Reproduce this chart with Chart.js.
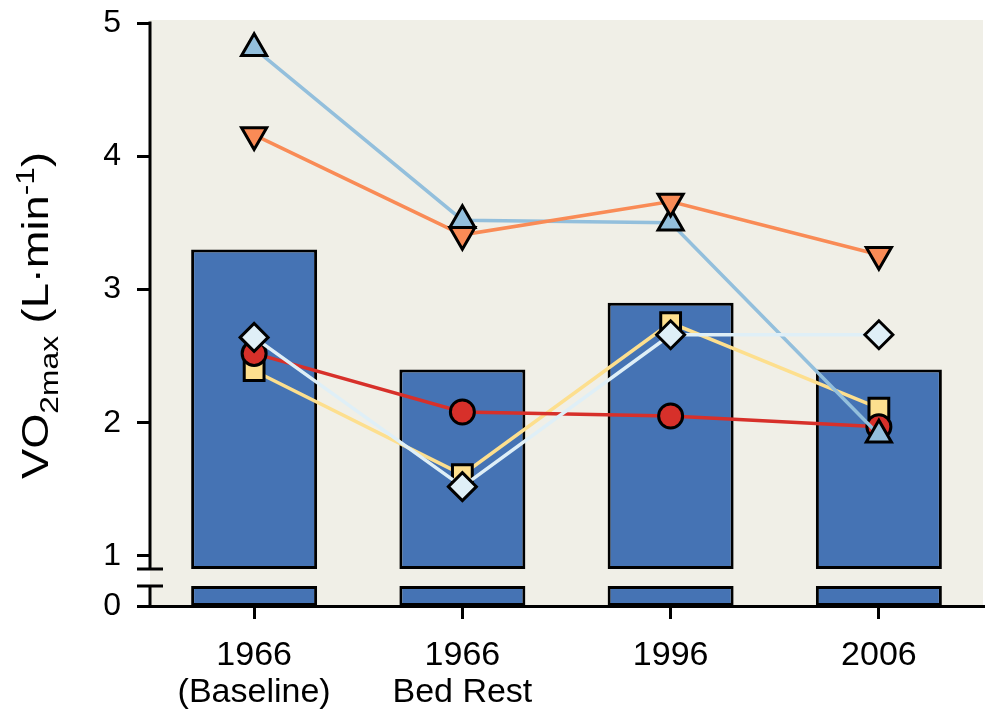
<!DOCTYPE html>
<html>
<head>
<meta charset="utf-8">
<script src="https://cdn.jsdelivr.net/npm/chart.js@4.4.1/dist/chart.umd.min.js"></script>
<style>
    html, body { margin: 0; padding: 0; background: #fff; overflow: hidden; }
    canvas { display: block; }
</style>
</head>
<body>
<canvas id="chart" width="992" height="723"></canvas>
<script>
const categories = [['1966', '(Baseline)'], ['1966', 'Bed Rest'], '1996', '2006'];
const barValues = [3.3, 2.4, 2.9, 2.4];
const circleValues = [2.52, 2.08, 2.05, 1.97];
const squareValues = [2.39, 1.61, 2.75, 2.11];
const diamondValues = [2.64, 1.52, 2.66, 2.66];
const upTriValues = [4.81, 3.52, 3.50, 1.91];
const downTriValues = [4.16, 3.41, 3.66, 3.26];
const yTickValues = [0, 1, 2, 3, 4, 5];

// broken axis: real 0 is drawn at AXIS_ZERO on the compressed scale
const AXIS_ZERO = 0.624;
const BREAK_BOTTOM = 0.774;
const BREAK_TOP = 0.902;

const FONT = '"Liberation Sans", Arial, sans-serif';
const BAR_BLUE = '#4573b4';

function drawTitle(ctx) {
    // VO2max (L·min-1), rotated, with sub- and superscript
    const big = 37, small = 26;
    const parts = [
        { t: 'VO', size: big, dy: 0 },
        { t: '2max', size: small, dy: 10 },
        { t: ' (L·min', size: big, dy: 0 },
        { t: '-1', size: small, dy: -14 },
        { t: ')', size: big, dy: 0 }
    ];
    ctx.save();
    let total = 0;
    parts.forEach(p => {
        ctx.font = p.size + 'px ' + FONT;
        p.w = ctx.measureText(p.t).width;
        total += p.w;
    });
    const startY = 479, endY = 152;
    const stretch = (startY - endY) / total;
    ctx.translate(48, startY);
    ctx.rotate(-Math.PI / 2);
    ctx.scale(stretch, 1);
    ctx.fillStyle = '#000';
    ctx.textBaseline = 'alphabetic';
    let xPos = 0;
    parts.forEach(p => {
        ctx.font = p.size + 'px ' + FONT;
        ctx.fillText(p.t, xPos, p.dy);
        xPos += p.w;
    });
    ctx.restore();
}

const brokenAxis = {
    id: 'brokenAxis',
    beforeDraw(chart) {
        const { ctx, chartArea: a } = chart;
        ctx.save();
        ctx.fillStyle = '#f0efe7';
        ctx.fillRect(a.left, a.top - 3, a.right - a.left, a.bottom - a.top + 3);
        ctx.restore();
    },
    afterDraw(chart) {
        const { ctx, chartArea: a } = chart;
        const y = chart.scales.y;
        const x = a.left;
        const top = y.getPixelForValue(BREAK_TOP);
        const bot = y.getPixelForValue(BREAK_BOTTOM);
        ctx.save();
        ctx.strokeStyle = '#000';
        ctx.lineWidth = 3;
        ctx.beginPath();
        ctx.moveTo(x, a.top - 1.5); ctx.lineTo(x, top);
        ctx.moveTo(x, bot); ctx.lineTo(x, a.bottom);
        ctx.moveTo(x - 13, top); ctx.lineTo(x + 13, top);
        ctx.moveTo(x - 13, bot); ctx.lineTo(x + 13, bot);
        ctx.stroke();
        ctx.restore();
        drawTitle(ctx);
    }
};

function lineSet(label, values, color, style, radius, rotation, order) {
    return {
        type: 'line',
        label: label,
        data: values,
        borderColor: color,
        borderWidth: 3.5,
        pointStyle: style,
        pointRadius: radius,
        pointRotation: rotation,
        pointBackgroundColor: color,
        pointBorderColor: '#000',
        pointBorderWidth: 3,
        tension: 0,
        order: order
    };
}

function noScalePadding(scale) {
    scale.paddingTop = 0;
    scale.paddingBottom = 0;
    scale.paddingLeft = 0;
    scale.paddingRight = 0;
}

const ctx = document.getElementById('chart').getContext('2d');
new Chart(ctx, {
    type: 'bar',
    data: {
        labels: categories,
        datasets: [
            lineSet('Subject A', diamondValues, '#dfeff7', 'rectRot', 14, 0, 1),
            lineSet('Subject B', downTriValues, '#f98b56', 'triangle', 14.5, 180, 2),
            lineSet('Subject C', upTriValues, '#93bfdc', 'triangle', 14.5, 0, 3),
            lineSet('Subject D', circleValues, '#d7302a', 'circle', 12, 0, 4),
            lineSet('Subject E', squareValues, '#fddf8e', 'rect', 14, 0, 5),
            {
                label: 'Mean',
                data: barValues.map(v => [BREAK_TOP, v]),
                backgroundColor: BAR_BLUE,
                borderColor: '#000',
                borderWidth: 3,
                borderSkipped: false,
                grouped: false,
                barPercentage: 0.605,
                categoryPercentage: 1,
                order: 10
            },
            {
                label: 'Mean (below break)',
                data: barValues.map(() => [AXIS_ZERO, BREAK_BOTTOM]),
                backgroundColor: BAR_BLUE,
                borderColor: '#000',
                borderWidth: 3,
                borderSkipped: false,
                grouped: false,
                barPercentage: 0.605,
                categoryPercentage: 1,
                order: 11
            }
        ]
    },
    options: {
        responsive: false,
        animation: false,
        devicePixelRatio: 1,
        layout: { autoPadding: false, padding: { top: 23, right: 9, left: 0, bottom: 0 } },
        plugins: { legend: { display: false }, tooltip: { enabled: false } },
        scales: {
            x: {
                offset: true,
                border: { display: true, color: '#000', width: 3 },
                grid: { drawOnChartArea: false, offset: false, tickLength: 13, color: '#000', lineWidth: 3 },
                ticks: { color: '#000', font: { family: FONT, size: 34, lineHeight: 1.1 }, padding: 18, maxRotation: 0 },
                afterFit(scale) {
                    scale.height = 117;
                    noScalePadding(scale);
                }
            },
            y: {
                min: AXIS_ZERO,
                max: 5,
                border: { display: false },
                grid: { drawOnChartArea: false, tickLength: 13, color: '#000', lineWidth: 3 },
                afterBuildTicks(scale) {
                    scale.ticks = yTickValues.map(v => ({ value: v === 0 ? AXIS_ZERO : v }));
                },
                ticks: {
                    color: '#000',
                    font: { family: FONT, size: 32 },
                    padding: 16,
                    callback: v => (v === AXIS_ZERO ? '0' : String(v))
                },
                afterFit(scale) {
                    scale.width = 150;
                    noScalePadding(scale);
                }
            }
        }
    },
    plugins: [brokenAxis]
});
</script>
</body>
</html>
